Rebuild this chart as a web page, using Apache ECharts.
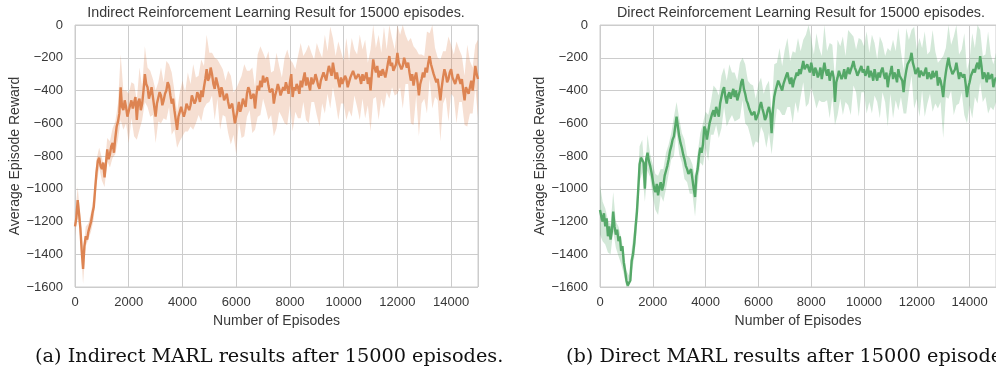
<!DOCTYPE html>
<html>
<head>
<meta charset="utf-8">
<script src="https://cdn.jsdelivr.net/npm/echarts@6/dist/echarts.min.js"></script>
<style>
html,body{margin:0;padding:0;background:#fff;}
#chart{width:996px;height:370px;}
</style>
</head>
<body>
<div id="chart"></div>
<script>
// ---------------- DATA ----------------
const LINE_STEP = 50;   // episode spacing of the mean curves
const BAND_STEP = 100;  // episode spacing of the band half-widths
const xTicks = [0, 2000, 4000, 6000, 8000, 10000, 12000, 14000];
const yTicks = [0, -200, -400, -600, -800, -1000, -1200, -1400, -1600];

const titles = [
  'Indirect Reinforcement Learning Result for 15000 episodes.',
  'Direct Reinforcement Learning Result for 15000 episodes.'
];
const captions = [
  '(a) Indirect MARL results after 15000 episodes.',
  '(b) Direct MARL results after 15000 episodes.'
];
const xLabel = 'Number of Episodes';
const yLabel = 'Average Episode Reward';

// Indirect: mean reward every 50 episodes (0..15000)
const indirectMean = [
  -1230,-1180,-1070,-1150,-1240,-1380,-1490,-1350,-1290,-1310,
  -1260,-1230,-1200,-1150,-1110,-1000,-900,-830,-810,-860,
  -880,-840,-930,-850,-760,-820,-790,-740,-720,-780,
  -690,-620,-590,-540,-380,-500,-520,-460,-500,-560,
  -570,-490,-460,-510,-520,-440,-580,-470,-450,-520,
  -480,-400,-300,-360,-380,-450,-420,-380,-440,-500,
  -560,-480,-470,-410,-430,-490,-460,-420,-400,-350,
  -370,-430,-480,-450,-520,-580,-640,-560,-560,-500,
  -510,-560,-530,-480,-470,-520,-490,-430,-440,-480,
  -460,-410,-430,-470,-400,-440,-380,-330,-270,-340,
  -320,-260,-300,-360,-390,-320,-330,-390,-440,-380,
  -410,-460,-450,-420,-470,-510,-520,-480,-540,-600,
  -590,-520,-470,-530,-500,-450,-460,-500,-420,-380,
  -400,-450,-460,-420,-510,-430,-370,-400,-340,-380,
  -310,-350,-360,-320,-370,-410,-420,-390,-480,-430,
  -400,-360,-390,-430,-440,-380,-400,-350,-380,-420,
  -350,-300,-440,-380,-400,-360,-380,-420,-340,-380,
  -330,-290,-370,-320,-360,-400,-320,-360,-340,-300,
  -330,-370,-390,-340,-340,-290,-300,-340,-290,-250,
  -260,-310,-230,-280,-330,-290,-340,-380,-320,-360,
  -350,-310,-330,-380,-370,-320,-320,-280,-290,-330,
  -340,-300,-320,-360,-300,-340,-330,-290,-360,-320,
  -400,-300,-210,-260,-290,-250,-320,-280,-310,-270,
  -260,-320,-280,-230,-190,-250,-230,-280,-290,-240,
  -170,-230,-220,-270,-250,-200,-210,-260,-230,-290,
  -340,-300,-370,-320,-290,-350,-430,-360,-330,-290,
  -320,-260,-290,-230,-190,-240,-250,-300,-290,-350,
  -330,-390,-460,-380,-320,-270,-300,-350,-330,-290,
  -270,-320,-310,-360,-350,-300,-310,-360,-330,-400,
  -460,-380,-370,-420,-380,-340,-400,-330,-250,-300,
  -330
];
// Indirect: half-width of the shaded band every 100 episodes
const indirectSpread = [
  60,80,70,90,60,50,60,70,80,60,
  70,60,70,80,90,100,110,200,120,100,
  150,110,160,120,190,100,170,120,140,110,
  160,120,170,110,180,130,190,120,110,150,
  170,120,180,130,200,140,120,190,130,210,
  150,130,190,120,200,140,110,190,210,130,
  200,120,190,220,140,120,200,130,190,210,
  140,150,210,130,200,230,140,120,200,230,
  140,210,130,190,230,140,210,240,150,130,
  220,230,140,240,130,250,150,140,240,160,
  130,250,150,240,140,160,260,150,240,130,
  250,240,150,260,140,250,130,260,150,140,
  250,160,260,150,130,260,240,140,250,150,
  130,250,140,260,150,130,250,160,140,260,
  150,130,250,160,140,150,250,160,140,130,
  240
];

// Direct: mean reward every 50 episodes (0..15000)
const directMean = [
  -1130,-1170,-1200,-1150,-1230,-1180,-1290,-1230,-1310,-1260,
  -1140,-1230,-1280,-1250,-1320,-1290,-1380,-1350,-1450,-1500,
  -1560,-1590,-1590,-1560,-1440,-1400,-1330,-1230,-1140,-1000,
  -850,-810,-800,-840,-1000,-820,-780,-830,-860,-900,
  -950,-1000,-1020,-970,-1040,-990,-960,-1010,-980,-920,
  -890,-860,-820,-770,-740,-700,-680,-620,-560,-620,
  -680,-720,-750,-790,-820,-860,-880,-910,-920,-880,
  -940,-1000,-1050,-920,-880,-800,-750,-780,-730,-620,
  -640,-700,-690,-600,-570,-540,-520,-560,-500,-530,
  -560,-480,-470,-400,-380,-440,-480,-430,-410,-450,
  -420,-390,-440,-400,-460,-430,-400,-350,-330,-390,
  -420,-460,-480,-510,-520,-550,-560,-530,-580,-560,
  -540,-500,-470,-510,-540,-580,-560,-520,-500,-540,
  -660,-520,-440,-400,-370,-340,-330,-380,-400,-360,
  -350,-310,-290,-330,-360,-320,-380,-340,-320,-290,
  -310,-270,-300,-260,-220,-270,-280,-240,-240,-290,
  -230,-270,-310,-260,-280,-320,-300,-260,-330,-280,
  -230,-280,-310,-270,-340,-300,-280,-320,-470,-350,
  -320,-280,-290,-330,-310,-270,-330,-290,-260,-300,
  -300,-250,-220,-260,-280,-310,-320,-270,-250,-290,
  -270,-310,-290,-250,-320,-280,-300,-340,-270,-310,
  -340,-290,-320,-280,-260,-300,-330,-290,-380,-320,
  -290,-250,-330,-290,-310,-350,-270,-310,-300,-340,
  -410,-330,-280,-240,-250,-210,-170,-230,-260,-300,
  -300,-260,-320,-280,-270,-310,-300,-260,-330,-290,
  -290,-330,-280,-320,-320,-280,-370,-320,-340,-380,
  -440,-350,-290,-240,-200,-250,-260,-300,-310,-270,
  -230,-280,-330,-290,-280,-320,-300,-360,-440,-380,
  -350,-310,-310,-270,-290,-250,-230,-270,-190,-250,
  -330,-290,-310,-350,-290,-330,-340,-300,-380,-340,
  -320
];
// Direct: half-width of the shaded band every 100 episodes
const directSpread = [
  150,120,110,100,90,120,80,90,80,70,
  60,60,70,90,100,110,100,80,110,70,
  100,110,120,80,100,110,90,80,120,90,
  110,90,120,80,110,90,120,100,90,130,
  110,140,100,150,110,130,160,120,140,170,
  130,150,120,170,130,180,140,160,190,130,
  180,150,120,190,160,130,200,140,190,150,
  200,210,140,220,150,230,140,130,220,240,
  150,130,230,160,140,240,150,230,160,140,
  230,160,240,140,230,250,150,130,240,160,
  140,250,150,240,160,130,250,150,140,240,
  130,240,150,250,140,130,260,160,140,250,
  150,240,130,260,150,130,250,160,140,130,
  250,150,250,140,240,260,150,130,250,160,
  140,260,150,250,160,140,130,250,160,140,
  150
];

// ---------------- BUILD ----------------
const minus = v => String(v).replace('-', '\u2212');
const Y_MIN = yTicks[yTicks.length - 1], Y_MAX = yTicks[0];
const clampY = v => Math.max(Y_MIN, Math.min(Y_MAX, v));

const panels = [
  {mean: indirectMean, spread: indirectSpread, color: '#dd8452', band: 'rgba(221,132,82,0.26)', left: 75, width: 403, cx: 276},
  {mean: directMean, spread: directSpread, color: '#55a868', band: 'rgba(85,168,104,0.26)', left: 600, width: 402, cx: 801}
];

const TOP = 25, HEIGHT = 262;
const textColor = '#383838';
const font = 'Liberation Sans, Arial, sans-serif';

const grids = [], xAxes = [], yAxes = [], series = [], graphics = [];

panels.forEach((p, k) => {
  grids.push({left: p.left, top: TOP, width: p.width, height: HEIGHT, show: true,
    borderColor: '#cccccc', borderWidth: 1, backgroundColor: '#ffffff', containLabel: false});
  xAxes.push({
    type: 'value', gridIndex: k, min: xTicks[0], max: 15000, interval: xTicks[1] - xTicks[0],
    name: xLabel, nameLocation: 'middle', nameGap: 25,
    nameTextStyle: {color: textColor, fontSize: 14, fontFamily: font},
    axisLine: {show: false}, axisTick: {show: false},
    axisLabel: {color: textColor, fontSize: 13, fontFamily: font, margin: 9, showMaxLabel: false,
      formatter: v => xTicks.indexOf(v) >= 0 ? minus(v) : ''},
    splitLine: {show: true, lineStyle: {color: '#cccccc', width: 1}}
  });
  yAxes.push({
    type: 'value', gridIndex: k, min: Y_MIN, max: Y_MAX, interval: 200,
    name: yLabel, nameLocation: 'middle', nameGap: 51, nameRotate: 90,
    nameTextStyle: {color: textColor, fontSize: 14, fontFamily: font},
    axisLine: {show: false}, axisTick: {show: false},
    axisLabel: {color: textColor, fontSize: 13, fontFamily: font, margin: 12, formatter: minus},
    splitLine: {show: true, lineStyle: {color: '#cccccc', width: 1}}
  });
  const bandEp = p.spread.map((_, i) => i * BAND_STEP);
  const bandMean = bandEp.map(ep => p.mean[ep / LINE_STEP]);
  series.push({
    type: 'custom', xAxisIndex: k, yAxisIndex: k, data: [[0, 0]], silent: true, z: 1,
    renderItem: (params, api) => {
      const pts = [];
      for (let i = 0; i < bandEp.length; i++) pts.push(api.coord([bandEp[i], clampY(bandMean[i] + p.spread[i])]));
      for (let i = bandEp.length - 1; i >= 0; i--) pts.push(api.coord([bandEp[i], clampY(bandMean[i] - p.spread[i])]));
      return {type: 'polygon', shape: {points: pts}, style: {fill: p.band}};
    }
  });
  series.push({
    type: 'line', xAxisIndex: k, yAxisIndex: k,
    data: p.mean.map((m, i) => [i * LINE_STEP, m]), symbol: 'none',
    lineStyle: {color: p.color, width: 2.4}, z: 3
  });
  graphics.push({type: 'text', x: p.cx, y: 13,
    style: {text: titles[k], fill: textColor, font: '14.3px ' + font, align: 'center', verticalAlign: 'middle'}});
});

graphics.push({type: 'text', x: 35, y: 357,
  style: {text: captions[0], fill: '#111', font: '19.3px "DejaVu Serif", serif', align: 'left', verticalAlign: 'middle'}});
graphics.push({type: 'text', x: 566, y: 357,
  style: {text: captions[1], fill: '#111', font: '19.3px "DejaVu Serif", serif', align: 'left', verticalAlign: 'middle'}});

const chart = echarts.init(document.getElementById('chart'), null, {renderer: 'canvas'});
chart.setOption({
  animation: false,
  backgroundColor: '#ffffff',
  grid: grids, xAxis: xAxes, yAxis: yAxes, series: series, graphic: graphics
});
</script>
</body>
</html>
